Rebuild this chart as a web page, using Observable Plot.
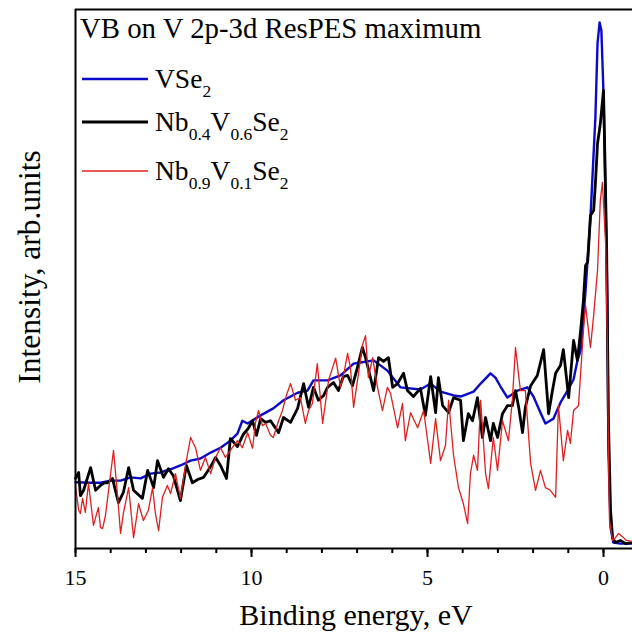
<!DOCTYPE html>
<html><head><meta charset="utf-8">
<script src="https://cdn.jsdelivr.net/npm/d3@7"></script>
<script src="https://cdn.jsdelivr.net/npm/@observablehq/plot@0.6"></script>
<style>body{margin:0;background:#fff;} svg{display:block;}</style>
</head><body><div id="chart"></div>
<script>
// ---- data (binding energy eV, intensity arb. units 0..100) ----
const blueE = [15.0,14.57,14.29,14.0,13.72,13.44,13.15,12.87,12.59,12.3,12.02,11.73,11.45,11.16,10.88,10.6,10.4,10.26,10.11,9.74,9.38,9.09,8.69,8.41,8.24,7.84,7.47,7.1,6.9,6.53,6.14,5.77,5.2,4.91,4.63,4.26,4.06,3.69,3.49,3.21,3.07,2.93,2.73,2.44,2.16,1.99,1.79,1.65,1.42,1.22,1.02,0.85,0.74,0.65,0.57,0.51,0.37,0.23,0.17,0.11,0.06,0.0,-0.06,-0.11,-0.14,-0.2,-0.28,-0.48,-0.82];
const blueI = [12.3,12.2,12.2,12.6,12.6,13.2,13.0,13.9,14.1,14.7,15.4,16.3,16.7,17.8,18.7,20.0,21.3,23.7,23.2,24.7,26.0,27.5,28.9,29.3,31.2,31.2,32.1,34.3,34.5,34.9,33.0,29.9,29.5,30.6,29.1,28.4,28.2,29.1,30.6,32.5,31.7,30.1,28.0,29.3,29.9,28.2,25.2,23.2,24.1,27.1,29.3,31.4,34.9,36.7,42.7,47.9,61.4,80.0,93.7,97.6,96.1,84.4,64.6,45.5,18.2,3.9,1.1,0.9,0.9];

const blackE = [15.00,14.91,14.86,14.77,14.57,14.43,14.29,14.18,14.09,13.95,13.78,13.64,13.49,13.35,13.10,12.95,12.78,12.67,12.50,12.36,12.22,12.02,11.85,11.68,11.53,11.36,11.16,11.02,10.88,10.71,10.60,10.40,10.23,10.09,9.97,9.86,9.74,9.60,9.46,9.23,9.09,8.89,8.69,8.52,8.38,8.24,8.10,7.95,7.84,7.67,7.53,7.39,7.27,7.13,6.99,6.85,6.76,6.62,6.53,6.39,6.25,6.11,5.99,5.85,5.68,5.57,5.40,5.20,5.06,4.91,4.77,4.69,4.57,4.40,4.26,4.06,3.98,3.84,3.72,3.58,3.44,3.35,3.21,3.13,3.01,2.87,2.73,2.59,2.50,2.41,2.30,2.22,2.07,1.88,1.70,1.56,1.45,1.36,1.22,1.14,0.99,0.85,0.74,0.65,0.57,0.51,0.45,0.37,0.28,0.23,0.17,0.09,0.00,-0.03,-0.09,-0.11,-0.14,-0.20,-0.26,-0.34,-0.48,-0.63,-0.82];
const blackI = [13.0,14.1,9.8,10.8,15.0,10.8,11.7,12.2,12.2,13.0,8.5,10.4,15.0,10.8,9.3,14.5,11.3,16.3,13.2,14.8,13.5,8.9,15.4,12.2,12.8,13.2,15.2,16.9,15.4,13.0,20.4,18.9,21.2,22.3,23.7,21.0,24.1,23.4,23.7,21.5,24.3,23.4,26.0,30.6,26.2,29.9,27.5,28.4,29.9,30.8,29.3,31.9,32.1,30.2,33.6,37.3,35.4,31.7,29.3,35.4,34.7,35.4,29.9,30.6,32.5,29.3,28.2,29.7,24.7,31.9,25.2,31.7,26.5,25.2,28.0,27.5,20.0,25.0,23.7,28.0,20.6,24.3,20.0,23.2,20.6,25.0,26.5,26.5,29.3,26.2,21.5,26.2,30.2,32.1,36.9,25.0,29.3,32.5,34.0,36.9,28.0,38.6,34.9,40.4,46.0,52.5,53.1,61.8,62.7,67.7,75.1,78.8,85.0,75.7,55.3,42.3,23.7,7.1,1.9,1.1,1.5,0.9,1.1];

const redE = [15.00,14.91,14.86,14.80,14.72,14.63,14.49,14.35,14.29,14.23,14.15,14.06,13.92,13.81,13.72,13.64,13.49,13.35,13.21,13.07,12.93,12.81,12.73,12.64,12.53,12.39,12.30,12.16,12.02,11.85,11.73,11.59,11.45,11.31,11.16,11.02,10.88,10.74,10.60,10.40,10.26,10.11,9.97,9.89,9.80,9.69,9.60,9.46,9.38,9.23,9.12,9.01,8.89,8.75,8.61,8.47,8.38,8.27,8.13,7.98,7.81,7.61,7.47,7.36,7.27,7.19,7.10,6.96,6.85,6.76,6.68,6.56,6.42,6.28,6.14,6.05,5.85,5.71,5.63,5.48,5.28,5.11,4.91,4.77,4.63,4.49,4.40,4.26,4.12,3.98,3.86,3.78,3.69,3.58,3.49,3.35,3.27,3.13,3.01,2.87,2.70,2.59,2.50,2.36,2.22,2.07,1.93,1.79,1.65,1.51,1.36,1.28,1.14,1.02,0.94,0.85,0.71,0.57,0.51,0.37,0.28,0.17,0.09,0.03,-0.06,-0.11,-0.14,-0.17,-0.26,-0.34,-0.43,-0.54,-0.65,-0.82];
const redI = [11.5,7.1,6.5,9.3,6.7,12.1,4.3,7.6,3.9,3.7,6.1,10.8,18.2,10.2,2.8,6.5,11.3,2.0,8.3,5.2,7.1,11.3,6.5,3.3,9.5,11.7,10.2,13.9,9.3,16.3,20.6,18.7,14.5,16.9,13.9,16.9,18.7,16.9,18.2,20.0,18.7,21.5,18.6,23.2,25.6,22.8,23.2,21.0,20.6,23.7,25.6,28.4,30.6,27.5,28.0,23.2,25.6,26.9,34.3,23.2,31.2,35.3,29.9,33.0,36.2,33.6,26.2,32.5,37.7,39.5,31.7,35.4,29.9,25.6,29.9,28.8,22.4,26.9,20.0,25.2,22.4,25.6,15.8,24.1,16.3,19.1,27.5,17.3,11.3,8.3,4.6,13.9,17.3,14.5,27.5,13.9,11.1,20.6,14.5,23.7,20.0,27.5,37.3,29.3,29.3,15.8,10.8,14.5,11.3,10.8,9.5,26.5,16.3,21.9,19.5,25.6,26.5,40.4,45.1,37.3,43.2,51.6,64.6,67.9,56.6,38.0,18.2,5.2,1.5,2.0,2.8,2.2,1.5,1.3];

const majorTicks = [15, 10, 5, 0];
const minorTicks = d3.range(0, 16);
const seriesColors = ["#0a0acc", "#000000", "#e0201c"];
const seriesWidths = [2.4, 2.8, 1.3];
const seriesLabels = [
  [["VSe", false], ["2", true]],
  [["Nb", false], ["0.4", true], ["V", false], ["0.6", true], ["Se", false], ["2", true]],
  [["Nb", false], ["0.9", true], ["V", false], ["0.1", true], ["Se", false], ["2", true]]
];
const titleText = "VB on V 2p-3d ResPES maximum";
const xLabel = "Binding energy, eV";
const yLabel = "Intensity, arb.units";

const toRows = (E, I) => E.map((e, i) => ({E: e, I: I[i]}));
const series = [toRows(blueE, blueI), toRows(blackE, blackI), toRows(redE, redI)];

const font = "'Liberation Serif', 'Times New Roman', serif";
const W = 632, H = 633, mL = 75, mR = 0, mT = 9, mB = 85;

const chart = Plot.plot({
  width: W, height: H,
  marginLeft: mL, marginRight: mR, marginTop: mT, marginBottom: mB,
  style: {fontFamily: font, background: "#fff", color: "#000"},
  x: {domain: [15, -0.824]},
  y: {domain: [0, 100], axis: null},
  marks: [
    ...series.map((d, k) => Plot.line(d, {x: "E", y: "I", stroke: seriesColors[k], strokeWidth: seriesWidths[k], strokeLinejoin: "round"})),
    Plot.ruleX([15], {strokeWidth: 2}),
    Plot.ruleY([0, 100], {strokeWidth: 2}),
    Plot.axisX({ticks: minorTicks, tickSize: 5, tickFormat: () => "", strokeWidth: 2, label: null}),
    Plot.axisX({ticks: majorTicks, tickSize: 9, tickPadding: 12, strokeWidth: 2, fontSize: 22, label: null, tickFormat: d => String(d)})
  ]
});

const svg = d3.select(chart);
svg.append("text").attr("x", 80).attr("y", 38).attr("text-anchor", "start")
  .attr("font-family", font).attr("font-size", 28.8).attr("fill", "#000").text(titleText);

const legendY = [79, 122, 171];
seriesLabels.forEach((parts, k) => {
  svg.append("line").attr("x1", 82).attr("x2", 148).attr("y1", legendY[k]).attr("y2", legendY[k])
    .attr("stroke", seriesColors[k]).attr("stroke-width", seriesWidths[k]);
  const t = svg.append("text").attr("x", 155).attr("y", legendY[k] + 9).attr("text-anchor", "start")
    .attr("font-family", font).attr("font-size", 27.5).attr("fill", "#000");
  let shifted = false;
  parts.forEach(([s, sub]) => {
    const ts = t.append("tspan").text(s);
    if (sub && !shifted) { ts.attr("dy", 9).attr("font-size", 17.5); shifted = true; }
    else if (sub) { ts.attr("font-size", 17.5); }
    else if (shifted) { ts.attr("dy", -9); shifted = false; }
  });
});

svg.append("text").attr("x", 356).attr("y", 625).attr("text-anchor", "middle")
  .attr("font-family", font).attr("font-size", 30).attr("fill", "#000").text(xLabel);
svg.append("text").attr("transform", "translate(40,267) rotate(-90)").attr("text-anchor", "middle")
  .attr("font-family", font).attr("font-size", 31.5).attr("fill", "#000").text(yLabel);

document.getElementById("chart").appendChild(chart);
</script></body></html>
